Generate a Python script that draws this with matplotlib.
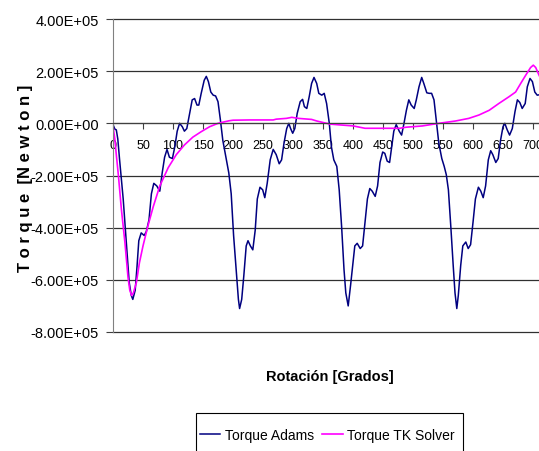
import numpy as np
import matplotlib
matplotlib.use('Agg')
import matplotlib.pyplot as plt
from matplotlib.patches import Rectangle

# Torque Adams: rotation (deg) and torque (x1e5 N)
adamsDeg = [0, 3, 5.5, 8, 11, 17, 22, 27, 30.5, 33, 37, 40, 43, 47, 52, 55.5, 60, 64, 68, 73,
            78, 82, 86, 90, 94, 99, 103, 107, 111, 115.5, 119, 123, 128, 132, 136, 140, 143, 147,
            152, 155.5, 159, 163, 167, 171, 175, 179, 183, 189, 193, 197, 201, 205.5, 209, 211,
            214.5, 218, 222, 225, 229, 233, 237, 240.5, 245, 249.5, 253, 257, 262, 267, 272, 277,
            281, 285, 289.5, 293, 296, 299.5, 303, 307, 312, 316, 319, 323, 327, 331, 335, 339.5,
            343, 348, 352, 356, 360.5, 364, 368, 373, 377, 381, 385, 388, 392, 396, 399.5, 403,
            407, 412, 416, 420, 424, 428, 432, 437, 441, 445, 449.5, 453, 457, 461, 464.5, 468,
            472, 477, 481, 485, 489, 493, 497, 502, 505.5, 510, 514.5, 518, 523, 527, 531, 535,
            539, 543, 548, 552, 555.5, 559, 563, 567, 570, 573, 575.5, 579.5, 583, 588, 592, 596,
            600, 604, 609, 613, 617, 621, 625.5, 629.5, 633, 638, 642, 646, 650, 653, 657, 661,
            665.5, 670, 674, 678, 682, 687, 690.5, 695, 699, 703, 707, 712, 716, 720]
adamsTq = [-0.05, -0.22, -0.25, -0.6, -1.4, -2.9, -4.5, -6.1, -6.6, -6.75, -6.4, -5.5, -4.5, -4.2,
           -4.3, -4.15, -3.7, -2.7, -2.3, -2.4, -2.6, -1.9, -1.3, -1.0, -1.3, -1.35, -0.9, -0.3,
           0.0, -0.13, -0.3, -0.2, 0.4, 0.9, 0.95, 0.7, 0.7, 1.15, 1.65, 1.8, 1.6, 1.2, 1.08, 1.05,
           0.83, 0.13, -0.65, -1.4, -1.9, -2.7, -4.3, -5.7, -6.75, -7.1, -6.75, -5.85, -4.7, -4.5,
           -4.7, -4.85, -4.1, -2.9, -2.45, -2.55, -2.85, -2.3, -1.4, -1.0, -1.2, -1.55, -1.4, -0.76,
           -0.2, 0.0, -0.2, -0.38, -0.2, 0.38, 0.83, 0.92, 0.64, 0.57, 1.02, 1.53, 1.76, 1.53, 1.15,
           1.08, 1.15, 0.76, 0.0, -0.9, -1.4, -1.65, -2.55, -3.95, -5.6, -6.5, -7.0, -6.2, -5.45,
           -4.7, -4.6, -4.8, -4.7, -3.8, -2.9, -2.5, -2.6, -2.8, -2.4, -1.5, -1.1, -1.15, -1.45,
           -1.5, -0.9, -0.3, -0.05, -0.3, -0.45, 0.0, 0.5, 0.9, 0.7, 0.57, 0.9, 1.4, 1.76, 1.53,
           1.17, 1.15, 1.15, 0.9, 0.06, -0.76, -1.35, -1.65, -1.97, -2.55, -3.95, -5.45, -6.5,
           -7.1, -6.6, -5.45, -4.7, -4.55, -4.8, -4.65, -3.8, -2.9, -2.45, -2.6, -2.85, -2.4, -1.4,
           -1.05, -1.2, -1.5, -1.35, -0.64, -0.13, 0.0, -0.25, -0.45, -0.2, 0.45, 0.9, 0.8, 0.57,
           0.76, 1.4, 1.72, 1.6, 1.2, 1.08, 1.1, 1.0, 0.9]

# Torque TK Solver: rotation (deg) and torque (x1e5 N)
tkDeg = [0, 3, 5.5, 9, 14, 20, 25, 28, 31, 34, 39, 44, 50, 58, 67, 78, 92, 105.5, 119, 133, 147,
         161, 175, 186, 194, 200, 228, 267, 272, 289, 298, 309, 331, 339.5, 350.5, 362, 378,
         400.5, 420, 450, 478, 488, 515.5, 543, 571, 593, 610, 627, 643, 660, 671, 679.5, 688,
         696, 700.5, 704.5, 710, 715, 720]
tkTq = [-0.1, -0.6, -1.2, -2.0, -3.3, -4.6, -5.9, -6.4, -6.6, -6.5, -6.1, -5.35, -4.7, -3.95,
        -3.2, -2.4, -1.7, -1.2, -0.83, -0.53, -0.32, -0.13, 0.0, 0.06, 0.1, 0.12, 0.13, 0.13,
        0.16, 0.19, 0.23, 0.19, 0.15, 0.09, 0.03, -0.03, -0.06, -0.1, -0.19, -0.19, -0.19, -0.15,
        -0.1, 0.0, 0.09, 0.19, 0.32, 0.5, 0.76, 1.02, 1.2, 1.53, 1.85, 2.14, 2.23, 2.14, 1.85,
        1.6, 1.4]

xTicks = np.arange(0, 701, 50)
yTicks = np.arange(-8e5, 4.01e5, 2e5)

plt.rcParams['font.family'] = ['Liberation Sans', 'DejaVu Sans']

figW, figH = 539, 452
fig = plt.figure(figsize=(figW/100, figH/100), dpi=100)
ax = fig.add_axes([113/figW, 1 - 333/figH, 432/figW, 313/figH])

adamsLine, = ax.plot(adamsDeg, np.array(adamsTq)*1e5, color='#000080', linewidth=1.1)
tkLine, = ax.plot(tkDeg, np.array(tkTq)*1e5, color='#FF00FF', linewidth=1.2)

ax.set_xlim(0, 720)
ax.set_ylim(-8e5, 4e5)
ax.set_xticks(xTicks)
ax.set_yticks(yTicks)
ax.set_yticklabels(['{:.2E}'.format(v) for v in yTicks])

ax.spines['top'].set_visible(False)
ax.spines['right'].set_visible(False)
ax.spines['left'].set_color('#808080')
ax.spines['bottom'].set_position(('data', 0))
ax.spines['bottom'].set_color('#404040')
ax.tick_params(axis='x', direction='out', length=4, pad=7, labelsize=9, color='#404040')
ax.tick_params(axis='y', direction='out', length=5, pad=5, labelsize=10.5, color='#404040')

ax.yaxis.grid(True, color='#303030', linewidth=0.9)
for gl in ax.get_ygridlines():
    gl.set_clip_on(False)
ax.set_axisbelow(True)

fig.text(26/figW, 1 - 178/figH, 'T o r q u e  [N e w t o n ]', rotation=90, ha='center', va='center',
         fontsize=12, fontweight='bold')
fig.text(330/figW, 1 - 377/figH, 'Rotación [Grados]', ha='center', va='center',
         fontsize=10.5, fontweight='bold')

# legend box runs off the bottom edge, so the frame is drawn separately
legBox = Rectangle((196/figW, 1 - 460/figH), 267/figW, 46/figH, transform=fig.transFigure,
                   facecolor='white', edgecolor='black', linewidth=0.8, clip_on=False)
fig.patches.append(legBox)
leg = fig.legend([adamsLine, tkLine], ['Torque Adams', 'Torque TK Solver'], loc='center left',
                 bbox_to_anchor=(200/figW, 1 - 436/figH), ncol=2, fontsize=10, frameon=False,
                 handlelength=1.45, handletextpad=0.35, columnspacing=0.6, borderpad=0,
                 borderaxespad=0)

plt.savefig('out.png', dpi=100)
